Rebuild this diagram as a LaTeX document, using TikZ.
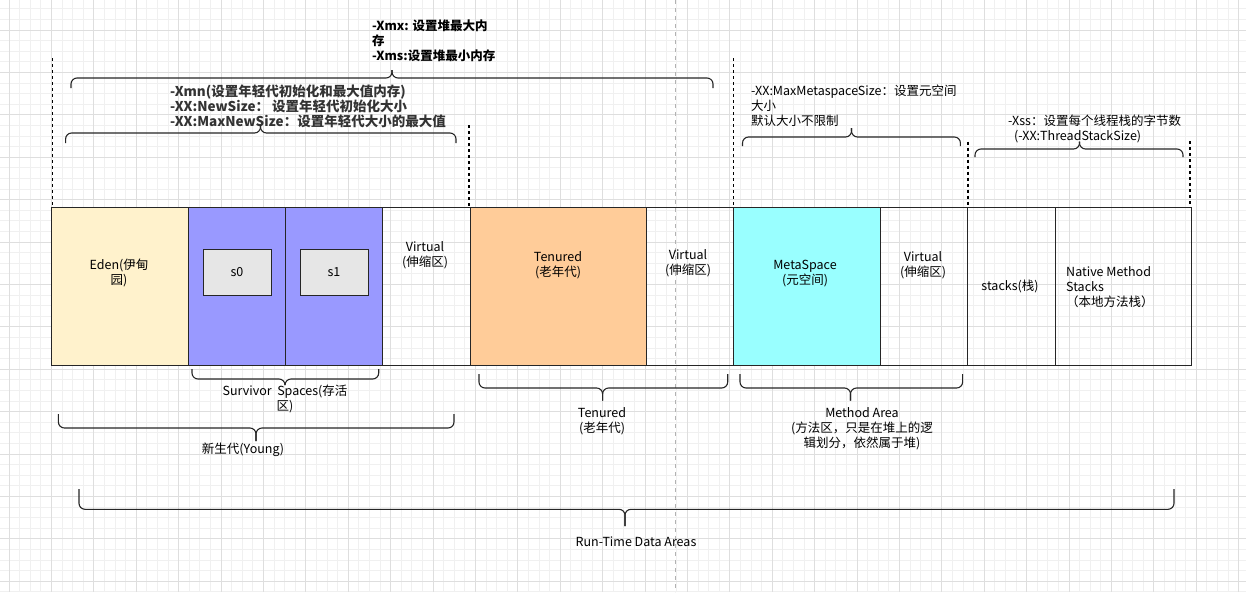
\documentclass[tikz,border=0pt]{standalone}
\usepackage{fontspec}
\setmainfont{Noto Sans CJK SC}
\usetikzlibrary{positioning}
\definecolor{edenfill}{HTML}{FFF2CC}
\definecolor{survfill}{HTML}{9999FF}
\definecolor{tenfill}{HTML}{FFCC99}
\definecolor{metafill}{HTML}{99FFFF}
\definecolor{sfill}{HTML}{E6E6E6}
\definecolor{inkgray}{HTML}{333333}
\tikzset{
box/.style={draw=black!85,line width=1pt,anchor=north west,minimum height=158pt,inner sep=0pt},
sbox/.style={draw=black!85,line width=1pt,fill=sfill,minimum width=68pt,minimum height=46pt,inner sep=0pt,font=\fontsize{12.5}{15}\selectfont},
lbl/.style={align=center,inner sep=0pt,font=\fontsize{12.5}{15}\selectfont},
note/.style={align=left,anchor=west,inner sep=0pt,font=\fontsize{12.5}{15}\selectfont},
monotext/.style={align=left,anchor=west,inner sep=0pt,text=inkgray,font=\fontsize{13.5}{15}\selectfont\bfseries},
bracel/.style={draw=black!85,line width=1.1pt,rounded corners=6pt},
guide/.style={black,line width=1.1pt,dash pattern=on 3pt off 3pt},
pagebreak/.style={black!30,line width=0.8pt,dash pattern=on 4pt off 4pt},
minorgrid/.style={black!6,line width=0.8pt},
majorgrid/.style={black!13,line width=0.9pt}
}

\begin{document}
\begin{tikzpicture}[x=1pt,y=-1pt]
\fill[white] (0,0) rectangle (1246,592);
\useasboundingbox (0,0) rectangle (1246,592);
% background grid
\foreach \k in {0,...,117} \draw[minorgrid] ({9+10.6*\k},0) -- ({9+10.6*\k},592);
\foreach \k in {-2,...,53} \draw[minorgrid] (0,{30+10.6*\k}) -- (1246,{30+10.6*\k});
\foreach \k in {0,...,29} \draw[majorgrid] ({9+42.4*\k},0) -- ({9+42.4*\k},592);
\foreach \k in {0,...,13} \draw[majorgrid] (0,{30+42.4*\k}) -- (1246,{30+42.4*\k});
\draw[pagebreak] (675.7,0) -- (675.7,592);

% memory areas
\node[box,fill=edenfill,minimum width=137pt] (eden) at (51,207) {};
\node[box,fill=survfill,minimum width=97pt] (surv0) at (188,207) {};
\node[box,fill=survfill,minimum width=97pt] (surv1) at (285,207) {};
\node[box,minimum width=88pt] (virtA) at (382,207) {};
\node[box,fill=tenfill,minimum width=176pt] (tenured) at (470,207) {};
\node[box,minimum width=87pt] (virtB) at (646,207) {};
\node[box,fill=metafill,minimum width=147pt] (meta) at (733,207) {};
\node[box,minimum width=87pt] (virtC) at (880,207) {};
\node[box,minimum width=88pt] (stacks) at (967,207) {};
\node[box,minimum width=136pt] (native) at (1055,207) {};
\node[sbox] (s0) at (237,272) {s0};
\node[sbox] (s1) at (334,272) {s1};

\node[lbl] (edenlbl) at (119,272.5) {Eden(伊甸\\园)};
\node[lbl] (virtAlbl) at (425,255.5) {Virtual\\(伸缩区)};
\node[lbl] (tenuredlbl) at (558,265) {Tenured\\(老年代)};
\node[lbl] (virtBlbl) at (688,263) {Virtual\\(伸缩区)};
\node[lbl] (metalbl) at (805,273.5) {MetaSpace\\(元空间)};
\node[lbl] (virtClbl) at (923,265) {Virtual\\(伸缩区)};
\node[lbl] (stackslbl) at (1010,286) {stacks(栈)};
\node[note] (nativelbl) at (1066,287) {Native Method\\Stacks\\（本地方法栈）};

% option notes
\node[note,font=\fontsize{12.5}{15}\selectfont\bfseries] (xmx) at (372,41) {-Xmx: 设置堆最大内\\存\\-Xms:设置堆最小内存};
\node[monotext] (xmn) at (170,106) {-Xmn(设置年轻代初始化和最大值内存)\\-XX:NewSize：\ 设置年轻代初始化大小\\-XX:MaxNewSize：设置年轻代大小的最大值};
\node[note] (metasize) at (751,106) {-XX:MaxMetaspaceSize：设置元空间\\大小\\默认大小不限制};
\node[note] (xss) at (1008,129) {-Xss：设置每个线程栈的字节数\\\hspace*{6pt}(-XX:ThreadStackSize)};

% group labels
\node[lbl] (survlbl) at (285,398.7) {Survivor\ \ Spaces(存活\\区)};
\node[lbl] (younglbl) at (243,450) {新生代(Young)};
\node[lbl] (oldlbl) at (602,421) {Tenured\\(老年代)};
\node[lbl] (methodlbl) at (862,429) {Method Area\\(方法区，只是在堆上的逻\\辑划分，依然属于堆)};
\node[lbl] (runtimelbl) at (636,541.7) {Run-Time Data Areas};

% braces: left/right/line/end/tip x/tip y
\foreach \xa/\xb/\yl/\ye/\xt/\yt in {71/713/78/88/392/70,65.6/456/133/143/260.5/125,
742.5/960.4/137/146/851.5/128,975/1183/149/157/1079.5/141.7,192/378.7/379/369/285/384,
58.4/454/428/414/256/441,479/727.7/388/374/602.6/400.7,740/962.6/388/374/850.5/400.7,
79/1174/509.3/489/625/526} {
\draw[bracel] (\xa,\ye) |- (\xt,\yl) -- (\xt,\yt);
\draw[bracel] (\xb,\ye) |- (\xt,\yl) -- (\xt,\yt);
}

% dashed guides
\foreach \x/\y in {52.7/58,469/125,733.8/58,968/141.7,1190/141}
\draw[guide] (\x,\y) -- (\x,207);
\end{tikzpicture}
\end{document}
